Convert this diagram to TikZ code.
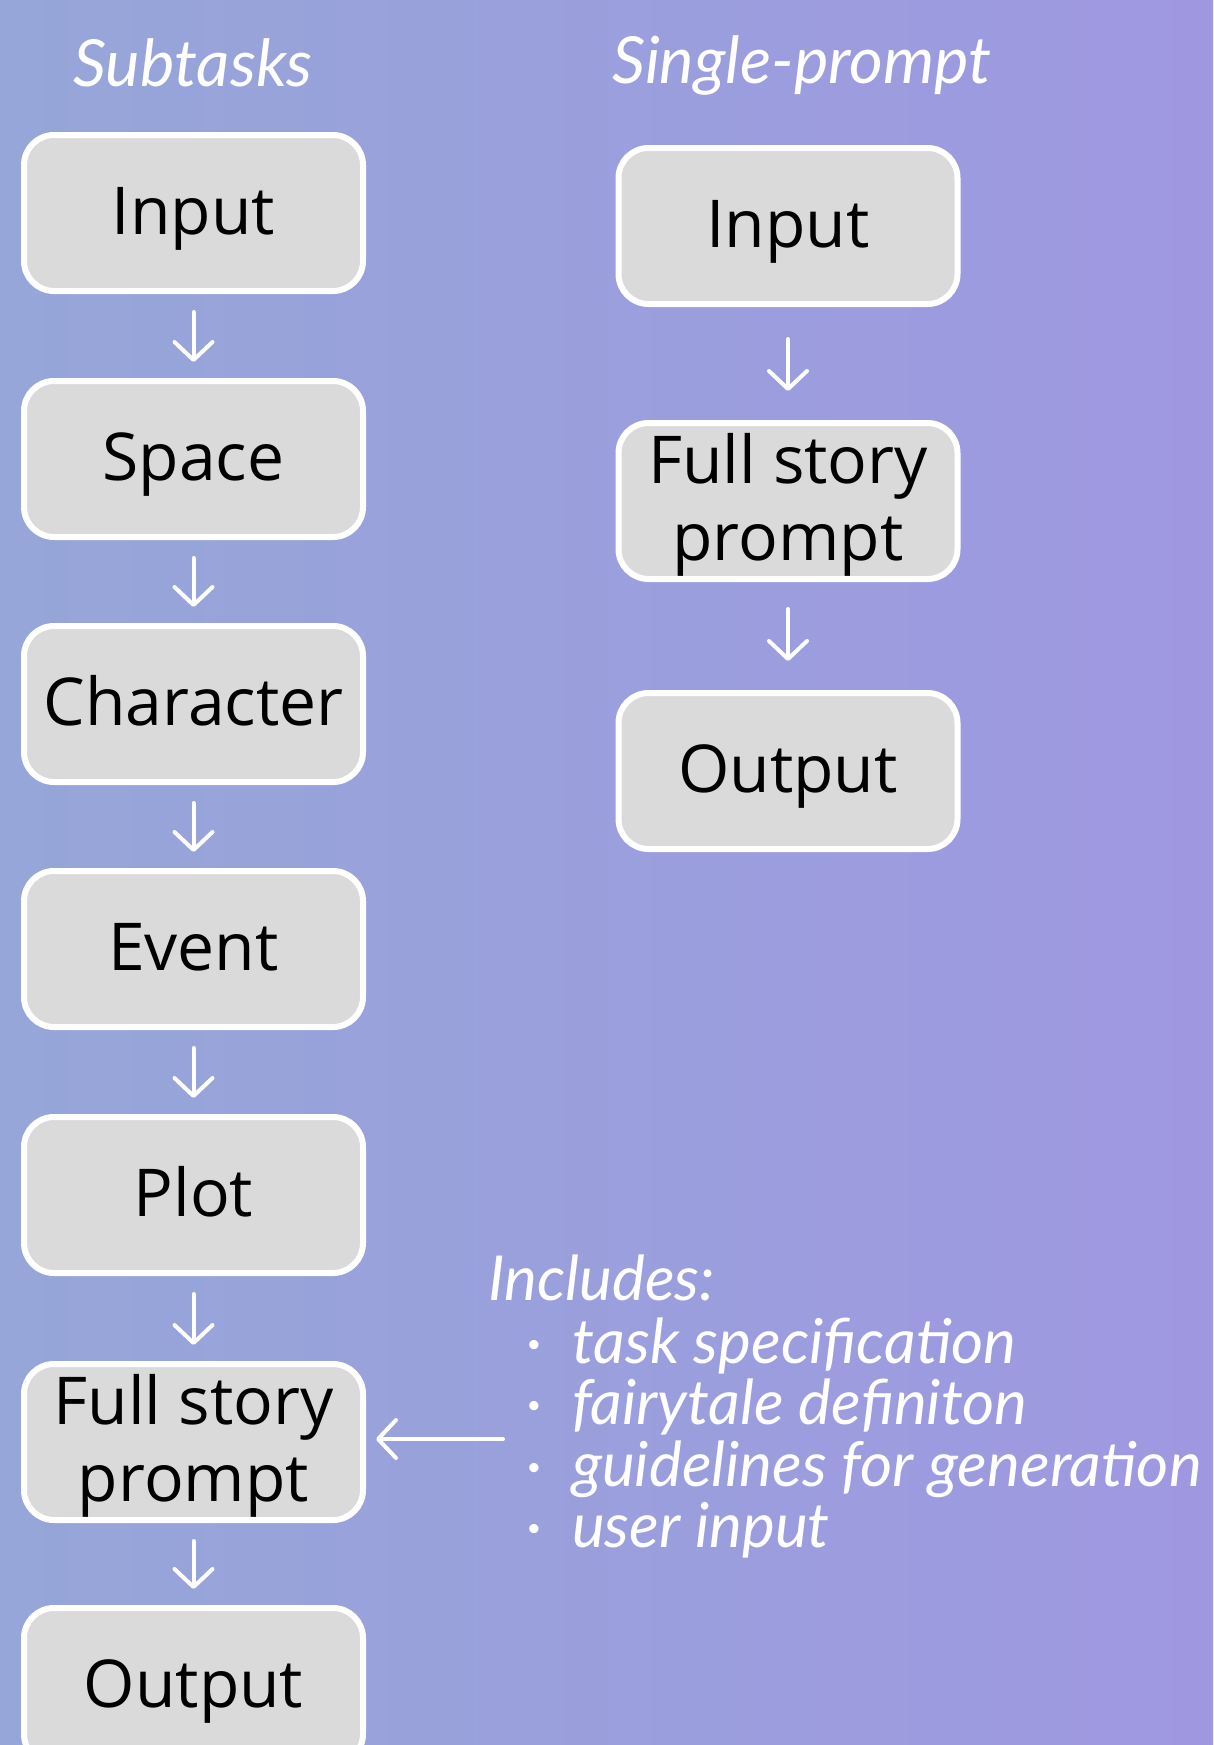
\documentclass[tikz,border=0pt]{standalone}
\usepackage{fontspec}
\setmainfont{Open Sans}
\newfontfamily\handfont{Lato}
\usetikzlibrary{arrows.meta}
\definecolor{bgleft}{RGB}{150,166,216}
\definecolor{bgright}{RGB}{159,152,225}
\definecolor{boxfill}{RGB}{218,218,218}
\tikzset{
  stepbox/.style={draw=white, line width=6pt, fill=boxfill, rounded corners=30pt,
    minimum width=339pt, minimum height=156pt, inner sep=0pt, align=center,
    text height=47pt, text depth=5pt,
    font=\fontsize{66}{77}\selectfont, text=black},
  twoline/.style={text height=124pt, text depth=5pt},
  flowarrow/.style={draw=white, line width=4pt, line cap=round,
    -{Straight Barb[length=18pt,width=38pt,line width=4pt,round]}},
  title/.style={text=white, font=\handfont\itshape\fontsize{65}{66}\selectfont, anchor=base, inner sep=0pt},
  note/.style={text=white, font=\handfont\itshape\fontsize{62}{64}\selectfont, anchor=base west, inner sep=0pt}
}
\begin{document}
\begin{tikzpicture}[x=1pt,y=-1pt]
\path[use as bounding box, left color=bgleft, right color=bgright] (0,0) rectangle (1213,1745);
\clip (0,0) rectangle (1213,1745);
% titles
\node[title] (t1) at (193,86) {Subtasks};
\node[title] (t2) at (802,84) {Single-prompt};
% left column
\node[stepbox] (l1) at (193.5,213) {Input};
\node[stepbox] (l2) at (193.5,459) {Space};
\node[stepbox] (l3) at (193.5,704) {Character};
\node[stepbox] (l4) at (193.5,949) {Event};
\node[stepbox] (l5) at (193.5,1195) {Plot};
\node[stepbox, twoline] (l6) at (193.5,1442) {Full story\\prompt};
\node[stepbox] (l7) at (193.5,1686) {Output};
\foreach \a/\b in {l1/l2,l2/l3,l3/l4,l4/l5,l5/l6,l6/l7}
  \draw[flowarrow, shorten <=18pt, shorten >=16pt] (\a.south) -- (\b.north);
% right column
\node[stepbox] (r1) at (788,226) {Input};
\node[stepbox, twoline] (r2) at (788,501) {Full story\\prompt};
\node[stepbox] (r3) at (788,771) {Output};
\draw[flowarrow, shorten <=32pt, shorten >=29pt] (r1.south) -- (r2.north);
\draw[flowarrow, shorten <=27pt, shorten >=29pt] (r2.south) -- (r3.north);
% includes note
\node[note] (inc) at (488,1300) {Includes:};
\node[note] (i1) at (526,1363) {·\hspace{30pt}task specification};
\node[note] (i2) at (526,1424) {·\hspace{30pt}fairytale definiton};
\node[note] (i3) at (526,1486) {·\hspace{30pt}guidelines for generation};
\node[note] (i4) at (526,1547) {·\hspace{30pt}user input};
\coordinate (incarrow) at (503,1439);
\draw[flowarrow, shorten >=10pt] (incarrow) -- (incarrow -| l6.east);
\end{tikzpicture}
\end{document}
